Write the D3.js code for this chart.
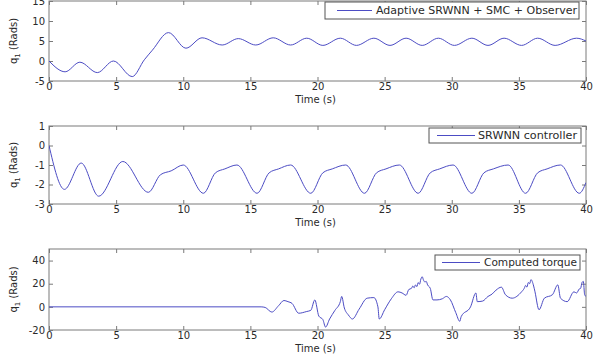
<!DOCTYPE html>
<html>
<head>
<meta charset="utf-8">
<script src="https://cdn.jsdelivr.net/npm/d3@7"></script>
<style>
  body { margin: 0; background: #fff; }
  svg { display: block; font-family: "DejaVu Sans", sans-serif; }
</style>
</head>
<body>
<svg id="fig" width="594" height="364"></svg>
<script>
// time ticks shared by the three panels
const timeTicks = [0, 5, 10, 15, 20, 25, 30, 35, 40];

// panel 1 : Adaptive SRWNN + SMC + Observer
const observerT = [0, 1.2, 2.3, 3.6, 4.8, 6.2, 7.1, 7.7, 8.9, 10.2, 11.4, 12.9, 14.1, 15.4, 16.7, 18.0,
  19.2, 20.4, 21.7, 22.9, 24.2, 25.4, 26.6, 27.8, 29.0, 30.2, 31.5, 32.7, 33.9, 35.2, 36.4, 37.7, 39.3, 40];
const observerQ = [0, -2.7, -0.3, -2.9, 0, -3.9, 0.3, 2.7, 7.1, 3.2, 5.8, 4.0, 5.6, 4.0, 5.8, 4.0,
  5.7, 3.9, 5.7, 3.9, 5.7, 3.9, 5.7, 3.9, 5.7, 3.9, 5.7, 3.9, 5.7, 3.9, 5.7, 3.9, 5.7, 5.0];
const observerTicks = [-5, 0, 5, 10, 15];

// panel 2 : SRWNN controller
const srwnnT = [0, 1.15, 2.4, 3.7, 5.5, 7.4, 8.3, 9.1, 10.0, 11.5, 12.4, 13.1, 14.0, 15.5, 16.4, 17.1, 18.0,
  19.5, 20.4, 21.1, 22.1, 23.5, 24.4, 25.1, 26.1, 27.5, 28.4, 29.1, 30.1, 31.5, 32.4, 33.1, 34.2,
  35.5, 36.4, 37.1, 38.1, 39.5, 40];
const srwnnQ = [0, -2.25, -0.9, -2.6, -0.82, -2.4, -1.5, -1.3, -1.0, -2.45, -1.4, -1.2, -1.0, -2.45, -1.4, -1.2, -1.0,
  -2.45, -1.4, -1.2, -1.0, -2.45, -1.4, -1.2, -1.0, -2.45, -1.4, -1.2, -1.0, -2.45, -1.4, -1.2, -1.0,
  -2.45, -1.4, -1.2, -1.0, -2.45, -1.9];
const srwnnTicks = [-3, -2, -1, 0, 1];

// panel 3 : Computed torque
const torqueT = [0, 15.8, 16.1, 16.6, 17.1, 17.5, 17.8, 18.1, 18.6, 19.2, 19.5, 19.8, 20.1, 20.4, 20.6, 20.9,
  21.3, 21.7, 21.8, 22.0, 22.3, 22.6, 23.1, 23.7, 24.2, 24.5, 24.6, 25.0, 25.5, 26.0, 26.3, 26.6,
  26.8, 27.0, 27.1, 27.2, 27.3, 27.4, 27.5, 27.6, 27.7, 27.8, 27.9, 28.0, 28.1, 28.2, 28.4, 28.6,
  28.9, 29.3, 29.6, 29.9, 30.3, 30.6, 30.7, 31.4, 31.8, 31.9, 32.3, 32.7, 33.0, 33.3, 33.7, 34.0,
  34.5, 35.2, 35.4, 35.5, 35.6, 35.7, 35.8, 35.9, 36.1, 36.2, 36.5, 36.9, 37.5, 37.9, 38.1, 38.6,
  39.1, 39.3, 39.5, 39.6, 39.7, 39.8, 39.9, 40];
const torqueQ = [0, 0, -0.5, -4.5, 1, 5.5, 4.5, 3, -5.5, -4, -3, 6, -8, -11, -17.5, -10.5,
  -3, 4.5, 9, -1, -7, -10.5, -2, 7.5, 8, 0, -10.5, -2.5, 7, 13, 12, 10,
  15, 16, 18, 16.5, 19, 17.5, 21, 19.5, 24, 26, 23, 21.5, 22, 19, 16, 6,
  6, 7, 9, 6, -5, -12.5, -8.5, 0, 12, 4.5, 5, 9, 11, 14.5, 17, 10.5,
  7.5, 13, 16, 18.5, 17, 21, 20, 23.5, 18, 13, -2.5, 7.5, 10.5, 19, 7.5, 4.5,
  13, 12, 15.5, 16, 21, 22, 10.5, 9];
const torqueTicks = [-20, 0, 20, 40];

const lineColor = "#4c4cc4";
const axisColor = "#7a7a7a";
const textColor = "#2a2a2a";

const svg = d3.select("#fig");
const left = 49, right = 586;
const x = d3.scaleLinear().domain([0, 40]).range([left, right]);

const panels = [
  { t: observerT, q: observerQ, ticks: observerTicks, domain: [-5, 15], top: 1, bottom: 81,
    name: "Adaptive SRWNN + SMC + Observer", box: [325, 579, 2, 19], text: [376, 577], line: [337, 372] },
  { t: srwnnT, q: srwnnQ, ticks: srwnnTicks, domain: [-3, 1], top: 126, bottom: 204,
    name: "SRWNN controller", box: [429, 581, 128, 143], text: [478, 577], line: [437, 475] },
  { t: torqueT, q: torqueQ, ticks: torqueTicks, domain: [-20, 50], top: 249, bottom: 330,
    name: "Computed torque", box: [435, 580, 255, 270], text: [484, 577], line: [442, 480] }
];

panels.forEach((p, i) => {
  const y = d3.scaleLinear().domain(p.domain).range([p.bottom, p.top]);
  const g = svg.append("g");

  g.append("clipPath").attr("id", "clip" + i)
    .append("rect").attr("x", left).attr("y", p.top)
    .attr("width", right - left).attr("height", p.bottom - p.top);

  // ticks inside the box on all four sides
  const styleAxis = sel => {
    sel.select(".domain").remove();
    sel.selectAll(".tick line").attr("stroke", axisColor);
    sel.selectAll(".tick text").attr("fill", textColor).attr("font-size", 10)
      .attr("font-family", "DejaVu Sans, sans-serif");
  };
  g.append("g").attr("transform", `translate(0,${p.bottom})`)
    .call(d3.axisBottom(x).tickValues(timeTicks).tickSize(-4).tickPadding(2).tickFormat(d => d))
    .call(styleAxis);
  g.append("g").attr("transform", `translate(0,${p.top})`)
    .call(d3.axisTop(x).tickValues(timeTicks).tickSize(-4).tickFormat(""))
    .call(styleAxis);
  g.append("g").attr("transform", `translate(${left},0)`)
    .call(d3.axisLeft(y).tickValues(p.ticks).tickSize(-4).tickPadding(4).tickFormat(d => d))
    .call(styleAxis);
  g.append("g").attr("transform", `translate(${right},0)`)
    .call(d3.axisRight(y).tickValues(p.ticks).tickSize(-4).tickFormat(""))
    .call(styleAxis);

  g.append("rect").attr("x", left).attr("y", p.top)
    .attr("width", right - left).attr("height", p.bottom - p.top)
    .attr("fill", "none").attr("stroke", axisColor);

  const pts = p.t.map((t, k) => [t, p.q[k]]);
  const line = d3.line().x(d => x(d[0])).y(d => y(d[1])).curve(d3.curveMonotoneX);
  g.append("path").datum(pts)
    .attr("clip-path", `url(#clip${i})`)
    .attr("d", line).attr("fill", "none")
    .attr("stroke", lineColor).attr("stroke-width", 1);

  // legend
  const [bx0, bx1, by0, by1] = p.box;
  const ym = (by0 + by1) / 2;
  g.append("rect").attr("x", bx0).attr("y", by0)
    .attr("width", bx1 - bx0).attr("height", by1 - by0)
    .attr("fill", "#fff").attr("stroke", "#555");
  g.append("line").attr("x1", p.line[0]).attr("x2", p.line[1])
    .attr("y1", ym).attr("y2", ym).attr("stroke", lineColor);
  g.append("text").attr("x", p.text[0]).attr("y", ym + 3.8)
    .attr("font-size", 10).attr("fill", textColor)
    .attr("textLength", p.text[1] - p.text[0]).attr("lengthAdjust", "spacingAndGlyphs")
    .text(p.name);

  // axis labels
  g.append("text").attr("x", (left + right) / 2 - 2).attr("y", p.bottom + 22)
    .attr("text-anchor", "middle").attr("font-size", 10).attr("fill", textColor)
    .text("Time (s)");

  const yl = g.append("text")
    .attr("transform", `translate(17,${(p.top + p.bottom) / 2}) rotate(-90)`)
    .attr("text-anchor", "middle").attr("font-size", 10).attr("fill", textColor);
  yl.append("tspan").text("q");
  yl.append("tspan").attr("font-size", 7).attr("dy", 3).text("1");
  yl.append("tspan").attr("dy", -3).text(" (Rads)");
});
</script>
</body>
</html>
